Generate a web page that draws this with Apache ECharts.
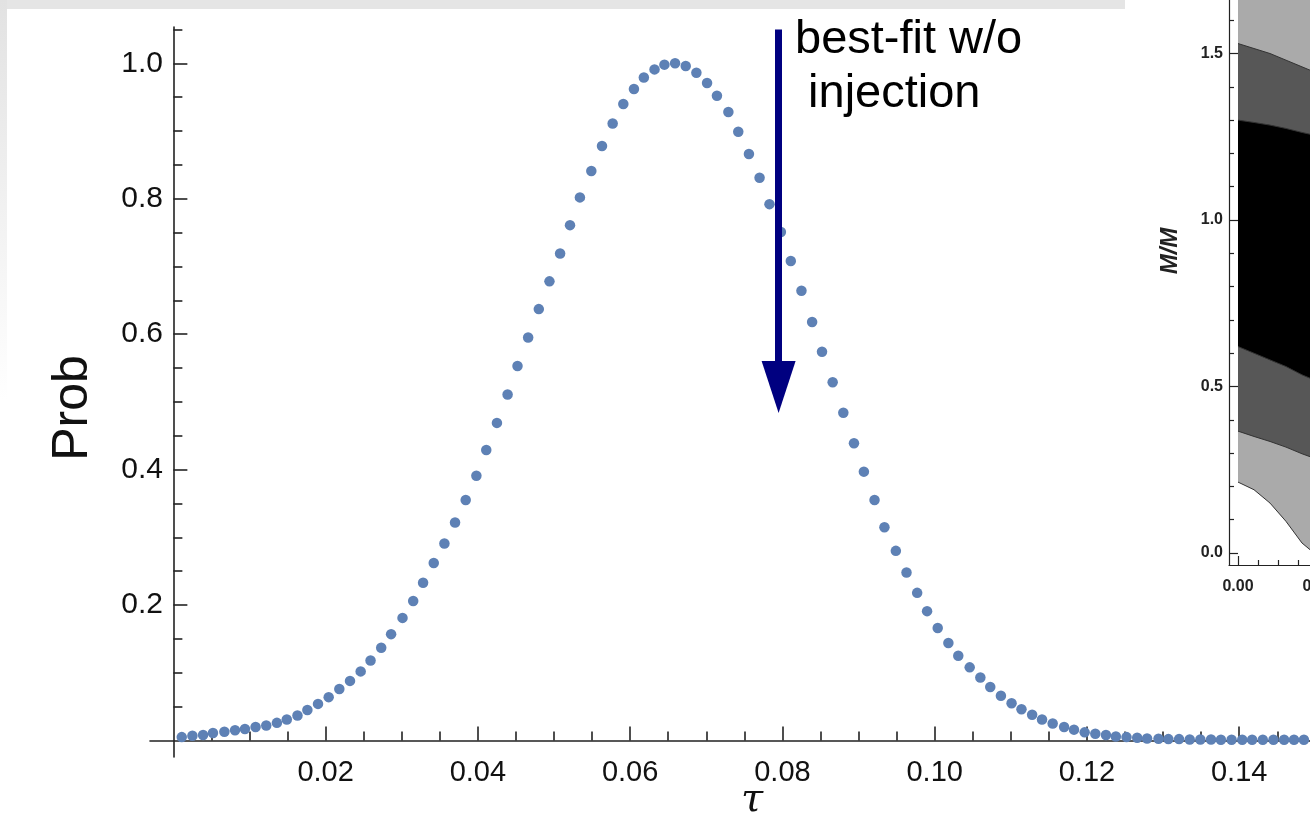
<!DOCTYPE html>
<html>
<head>
<meta charset="utf-8">
<title>Prob vs tau</title>
<script src="https://cdn.jsdelivr.net/npm/echarts/dist/echarts.min.js"></script>
<style>
    html, body { margin: 0; padding: 0; background: #fff; }
    #chart { width: 1310px; height: 833px; }
</style>
</head>
<body>
<div id="chart"></div>
<script>
// 主图数据
var tau = [
    0.0011, 0.0025, 0.0039, 0.0052, 0.0067, 0.0081, 0.0094, 0.0108, 0.0122, 0.0136,
    0.0149, 0.0163, 0.0176, 0.0190, 0.0204, 0.0218, 0.0232, 0.0246, 0.0259, 0.0273,
    0.0286, 0.0301, 0.0315, 0.0328, 0.0342, 0.0356, 0.0370, 0.0384, 0.0398, 0.0411,
    0.0425, 0.0439, 0.0452, 0.0466, 0.0480, 0.0494, 0.0508, 0.0521, 0.0534, 0.0549,
    0.0563, 0.0577, 0.0591, 0.0605, 0.0618, 0.0632, 0.0645, 0.0659, 0.0673, 0.0687,
    0.0701, 0.0714, 0.0729, 0.0742, 0.0756, 0.0770, 0.0783, 0.0798, 0.0811, 0.0825,
    0.0839, 0.0852, 0.0866, 0.0880, 0.0894, 0.0907, 0.0921, 0.0934, 0.0949, 0.0963,
    0.0977, 0.0990, 0.1004, 0.1018, 0.1031, 0.1046, 0.1060, 0.1073, 0.1087, 0.1101,
    0.1114, 0.1128, 0.1141, 0.1155, 0.1170, 0.1183, 0.1197, 0.1211, 0.1225, 0.1238,
    0.1252, 0.1266, 0.1279, 0.1294, 0.1307, 0.1321, 0.1335, 0.1349, 0.1363, 0.1376,
    0.1390, 0.1404, 0.1417, 0.1431, 0.1445, 0.1459, 0.1472, 0.1485, 0.1499
];
var prob = [
    0.005, 0.007, 0.008, 0.011, 0.013, 0.015, 0.017, 0.020, 0.022, 0.026,
    0.031, 0.037, 0.045, 0.054, 0.064, 0.076, 0.088, 0.102, 0.118, 0.137,
    0.157, 0.181, 0.206, 0.233, 0.262, 0.291, 0.322, 0.355, 0.391, 0.429,
    0.469, 0.511, 0.553, 0.595, 0.637, 0.678, 0.719, 0.761, 0.802, 0.841,
    0.878, 0.911, 0.940, 0.962, 0.979, 0.991, 0.998, 1.000, 0.996, 0.986,
    0.971, 0.952, 0.928, 0.899, 0.866, 0.831, 0.792, 0.751, 0.708, 0.664,
    0.618, 0.574, 0.529, 0.484, 0.439, 0.397, 0.355, 0.315, 0.280, 0.248,
    0.218, 0.191, 0.166, 0.144, 0.125, 0.108, 0.093, 0.079, 0.066, 0.055,
    0.046, 0.038, 0.031, 0.025, 0.020, 0.016, 0.012, 0.010, 0.008, 0.006,
    0.005, 0.004, 0.003, 0.0025, 0.002, 0.002, 0.0015, 0.0015, 0.0015, 0.001,
    0.001, 0.001, 0.001, 0.001, 0.001, 0.001, 0.001, 0.001, 0.001
];
// 刻度
var xMajor = [0.02, 0.04, 0.06, 0.08, 0.10, 0.12, 0.14];
var xMinor = [0.005, 0.01, 0.015, 0.025, 0.03, 0.035, 0.045, 0.05, 0.055, 0.065, 0.07, 0.075,
    0.085, 0.09, 0.095, 0.105, 0.11, 0.115, 0.125, 0.13, 0.135, 0.145];
var yMajor = [0.2, 0.4, 0.6, 0.8, 1.0];
var yMinor = [0.05, 0.1, 0.15, 0.25, 0.3, 0.35, 0.45, 0.5, 0.55, 0.65, 0.7, 0.75, 0.85, 0.9, 0.95, 1.05];
// 箭头标注
var bestFitTau = 0.0795;
var arrowFrom = 1.05;
var arrowTo = 0.522;

// 右侧小图 (等高线) 数据
var insetX = [0, 0.004, 0.008, 0.012, 0.016, 0.019];
var insetTop = [1.8, 1.8, 1.8, 1.8, 1.8, 1.8];
var darkUpper = [1.53, 1.515, 1.50, 1.48, 1.46, 1.445];
var blackUpper = [1.30, 1.293, 1.285, 1.275, 1.263, 1.255];
var blackLower = [0.62, 0.60, 0.58, 0.56, 0.535, 0.52];
var darkLower = [0.366, 0.35, 0.335, 0.318, 0.298, 0.285];
var whiteEdge = [0.213, 0.19, 0.15, 0.095, 0.03, 0];
var insetXMajor = [0, 0.02];
var insetXMinor = [0.005, 0.01, 0.015, 0.025];
var insetYMajor = [0, 0.5, 1.0, 1.5];
var insetYMinor = [0.1, 0.2, 0.3, 0.4, 0.6, 0.7, 0.8, 0.9, 1.1, 1.2, 1.3, 1.4, 1.6, 1.7];

(function () {
    var myChart = echarts.init(document.getElementById("chart"));
    var font = "'Liberation Sans', Arial, sans-serif";
    var axisColor = "#222";

    function pairs(xs, ys) {
        return xs.map(function (x, i) { return [x, ys[i]]; });
    }

    function band(data, fill, edge) {
        return {
            type: "line",
            xAxisIndex: 2,
            yAxisIndex: 2,
            data: pairs(insetX, data),
            showSymbol: false,
            silent: true,
            lineStyle: { color: "#333", width: edge ? 1 : 0 },
            areaStyle: { color: fill, opacity: 1 }
        };
    }

    var option = {
        animation: false,
        backgroundColor: "#fff",
        graphic: [
            { type: "rect", x: 0, y: 0, shape: { width: 1125, height: 9 }, style: { fill: "#e5e5e5" }, z: -1 },
            {
                type: "rect", x: 0, y: 0, shape: { width: 7, height: 400 }, z: -1,
                style: {
                    fill: new echarts.graphic.LinearGradient(0, 0, 0, 1, [
                        { offset: 0, color: "#e2e2e2" },
                        { offset: 1, color: "#ffffff" }
                    ])
                }
            },
            {
                type: "text", x: 73, y: 408, rotation: Math.PI / 2,
                style: { text: "Prob", font: "50px " + font, fill: "#111", align: "center", verticalAlign: "middle" }
            },
            {
                type: "text", x: 752, y: 801,
                style: { text: "τ", font: "italic 40px 'DejaVu Serif', serif", fill: "#111", align: "center", verticalAlign: "middle" }
            },
            {
                type: "text", x: 795, y: 13,
                style: { text: "best-fit w/o\n injection", font: "47px " + font, lineHeight: 54, fill: "#000", align: "left", verticalAlign: "top" }
            },
            {
                type: "text", x: 1170, y: 251, rotation: Math.PI / 2,
                style: { text: "M/M", font: "italic bold 24px " + font, fill: "#222", align: "center", verticalAlign: "middle" }
            }
        ],
        grid: [
            { left: 150, right: 0, top: 27, bottom: 76, outerBoundsMode: "none" },
            { left: 1229, right: -30, top: -20, bottom: 268, outerBoundsMode: "none" }
        ],
        xAxis: [
            {
                type: "value", gridIndex: 0, min: -0.00307, max: 0.1493, position: "bottom",
                axisLine: { onZero: true, lineStyle: { color: axisColor, width: 1.6 } },
                axisTick: { inside: true, length: 14, customValues: xMajor, lineStyle: { color: axisColor, width: 1.6 } },
                axisLabel: {
                    customValues: xMajor, margin: 1, color: "#111", fontSize: 29, fontFamily: font,
                    formatter: function (v) { return v.toFixed(2); }
                },
                splitLine: { show: false }
            },
            {
                type: "value", gridIndex: 0, min: -0.00307, max: 0.1493, position: "bottom",
                axisLine: { show: false, onZero: true },
                axisTick: { inside: true, length: 9, customValues: xMinor, lineStyle: { color: axisColor, width: 1.6 } },
                axisLabel: { show: false },
                splitLine: { show: false }
            },
            {
                type: "value", gridIndex: 1, min: -0.00225, max: 0.0255, position: "bottom",
                axisLine: { onZero: false, lineStyle: { color: axisColor, width: 1.2 } },
                axisTick: { inside: true, length: 9, customValues: insetXMajor, lineStyle: { color: axisColor, width: 1.2 } },
                axisLabel: {
                    customValues: insetXMajor, margin: 14, color: "#222", fontSize: 16, fontWeight: "bold", fontFamily: font,
                    formatter: function (v) { return v.toFixed(2); }
                },
                splitLine: { show: false }
            },
            {
                type: "value", gridIndex: 1, min: -0.00225, max: 0.0255, position: "bottom",
                axisLine: { show: false, onZero: false },
                axisTick: { inside: true, length: 5, customValues: insetXMinor, lineStyle: { color: axisColor, width: 1.2 } },
                axisLabel: { show: false },
                splitLine: { show: false }
            }
        ],
        yAxis: [
            {
                type: "value", gridIndex: 0, min: -0.0244, max: 1.0536, position: "left",
                axisLine: { onZero: true, lineStyle: { color: axisColor, width: 1.6 } },
                axisTick: { inside: true, length: 14, customValues: yMajor, lineStyle: { color: axisColor, width: 1.6 } },
                axisLabel: {
                    customValues: yMajor, margin: -13, color: "#111", fontSize: 30, fontFamily: font,
                    formatter: function (v) { return v.toFixed(1); }
                },
                splitLine: { show: false }
            },
            {
                type: "value", gridIndex: 0, min: -0.0244, max: 1.0536, position: "left",
                axisLine: { show: false, onZero: true },
                axisTick: { inside: true, length: 9, customValues: yMinor, lineStyle: { color: axisColor, width: 1.6 } },
                axisLabel: { show: false },
                splitLine: { show: false }
            },
            {
                type: "value", gridIndex: 1, min: -0.036, max: 1.7208, position: "left",
                axisLine: { onZero: false, lineStyle: { color: axisColor, width: 1.2 } },
                axisTick: { inside: true, length: 9, customValues: insetYMajor, lineStyle: { color: axisColor, width: 1.2 } },
                axisLabel: {
                    customValues: insetYMajor, margin: 6, color: "#222", fontSize: 16, fontWeight: "bold", fontFamily: font,
                    formatter: function (v) { return v.toFixed(1); }
                },
                splitLine: { show: false }
            },
            {
                type: "value", gridIndex: 1, min: -0.036, max: 1.7208, position: "left",
                axisLine: { show: false, onZero: false },
                axisTick: { inside: true, length: 5, customValues: insetYMinor, lineStyle: { color: axisColor, width: 1.2 } },
                axisLabel: { show: false },
                splitLine: { show: false }
            }
        ],
        series: [
            band(insetTop, "#aaaaaa", false),
            band(darkUpper, "#575757", true),
            band(blackUpper, "#000000", true),
            band(blackLower, "#575757", true),
            band(darkLower, "#aaaaaa", true),
            band(whiteEdge, "#ffffff", true),
            {
                name: "Prob",
                type: "scatter",
                xAxisIndex: 0,
                yAxisIndex: 0,
                data: pairs(tau, prob),
                symbolSize: 10.5,
                itemStyle: { color: "#5e81b5", opacity: 1 },
                z: 3,
                markLine: {
                    silent: true,
                    symbol: ["none", "triangle"],
                    symbolSize: [34, 52],
                    label: { show: false },
                    lineStyle: { color: "#000080", width: 7, type: "solid" },
                    itemStyle: { color: "#000080" },
                    data: [[{ coord: [bestFitTau, arrowFrom] }, { coord: [bestFitTau, arrowTo] }]]
                }
            }
        ]
    };

    myChart.setOption(option);
    window.addEventListener("resize", function () {
        myChart.resize();
    });
})();
</script>
</body>
</html>
